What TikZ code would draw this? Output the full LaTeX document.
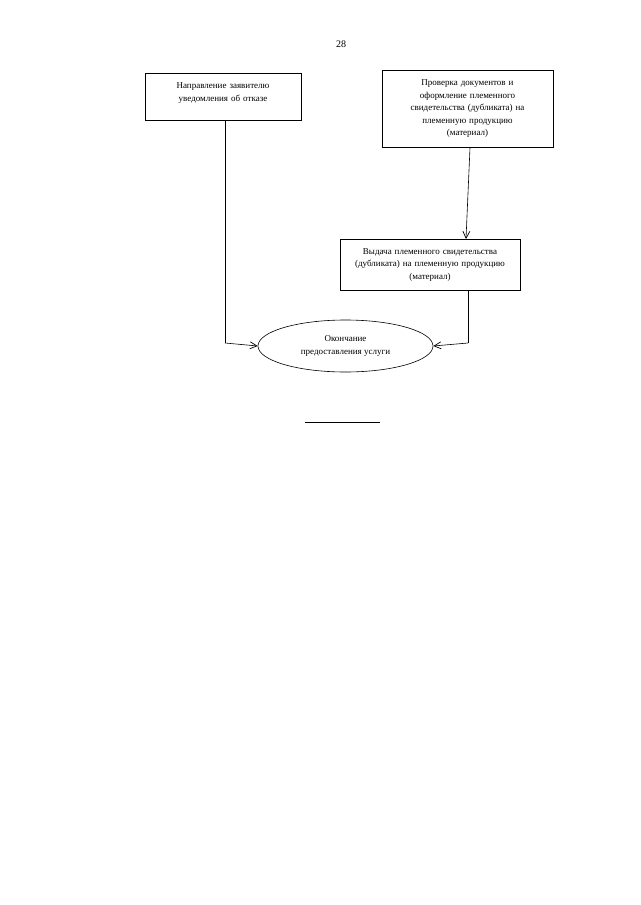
\documentclass[tikz,border=0pt]{standalone}
\usepackage{fontspec}
\setmainfont{Liberation Serif}
\usetikzlibrary{
    positioning,
    calc,
    shapes.geometric,
    arrows.meta
}

\tikzset{
    caixa/.style={
        draw,
        line width=0.6pt,
        align=center,
        inner sep=4pt,
        font=\fontsize{9}{12.5}\selectfont
    },
    seta/.style={
        draw,
        line width=0.6pt,
        -{Straight Barb[length=7pt,width=7pt,line width=0.7pt]}
    },
    linha/.style={
        draw,
        line width=0.6pt
    }
}

\begin{document}
\begin{tikzpicture}[x=1pt,y=-1pt]
    \useasboundingbox (0,0) rectangle (640,905);

    % numero da pagina
    \node[font=\fontsize{10}{12}\selectfont] (pagina) at (341,44) {28};

    \node[
        caixa,
        anchor=north,
        minimum width=156pt,
        minimum height=47pt,
        text width=146pt,
        text depth=22pt
    ] (recusa) at (223,73) {Направление заявителю\\уведомления об отказе};

    \node[
        caixa,
        anchor=north,
        minimum width=171pt,
        minimum height=77pt,
        text width=160pt
    ] (verificacao) at (467.5,70) {Проверка документов и\\оформление племенного\\свидетельства (дубликата) на\\племенную продукцию\\(материал)};

    \node[
        caixa,
        anchor=north,
        minimum width=180pt,
        minimum height=51pt,
        text width=172pt
    ] (emissao) at (430,239) {Выдача племенного свидетельства\\(дубликата) на племенную продукцию\\(материал)};

    \node[
        caixa,
        ellipse,
        minimum width=175pt,
        minimum height=52pt,
        inner sep=1pt
    ] (fim) at (345.5,346) {Окончание\\предоставления услуги};

    \coordinate (dobraesq) at (225,343);
    \coordinate (dobradir) at (468,343);

    \draw[seta] (verificacao.south -| 470,0) -- (emissao.north -| 466,0);
    \draw[linha] (recusa.south -| dobraesq) -- (dobraesq);
    \draw[seta] (dobraesq) -- (fim.west);
    \draw[linha] (emissao.south -| dobradir) -- (dobradir);
    \draw[seta] (dobradir) -- (fim.east);

    % traco final
    \draw[linha] (305,422) -- (380,422);
\end{tikzpicture}
\end{document}
